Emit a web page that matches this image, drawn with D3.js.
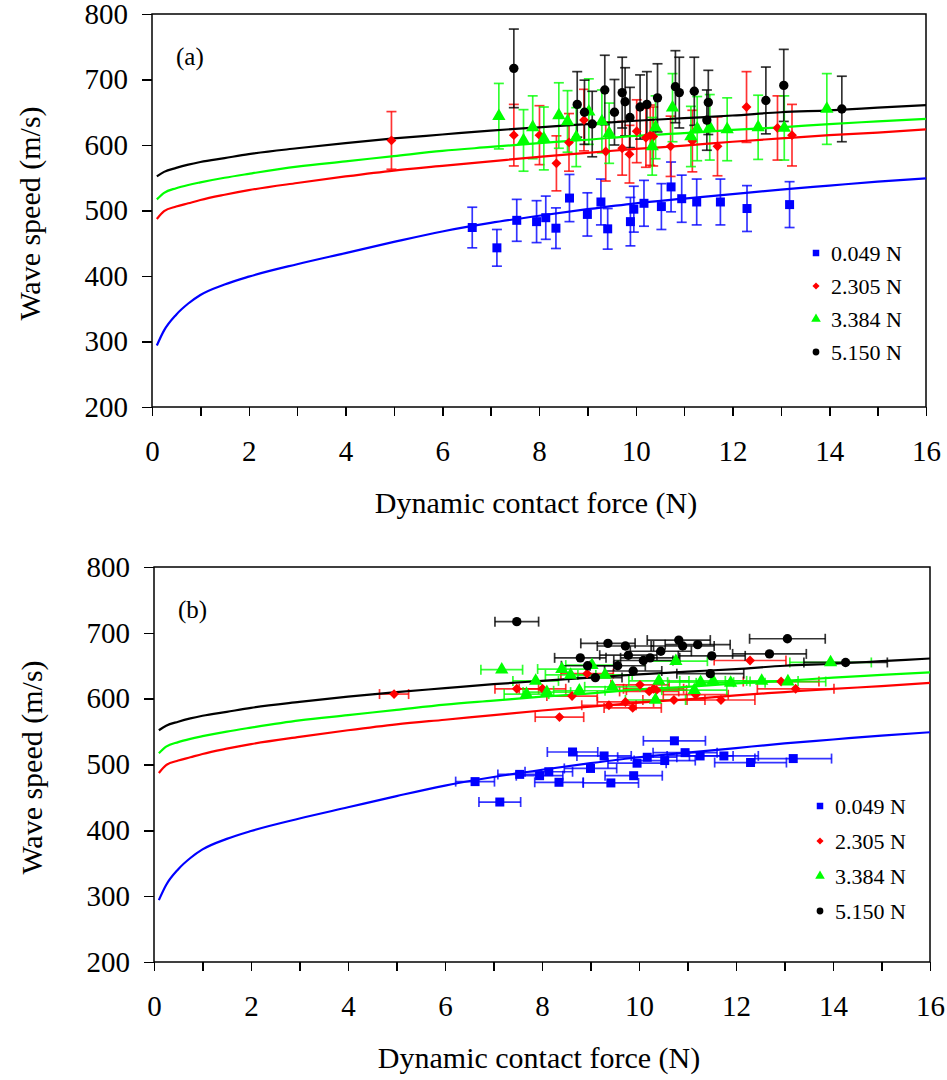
<!DOCTYPE html>
<html lang="en">
<head>
<meta charset="UTF-8">
<title>Wave speed vs dynamic contact force</title>
<script src="https://cdn.jsdelivr.net/npm/d3@7"></script>
<style>
  body { margin: 0; background: #fff; }
  svg text { font-family: "Liberation Serif", "Times New Roman", serif; fill: #000; }
  .axis path, .axis line { stroke: #000; stroke-width: 1.5; shape-rendering: crispEdges; }
  .axis text { font-size: 29px; }
</style>
</head>
<body>
<script>
// ---- data ----
var seriesNames = ["0.049 N", "2.305 N", "3.384 N", "5.150 N"]
var seriesColors = ["#0000ff", "#ff0000", "#00ff00", "#000000"]
var seriesShapes = ["square", "diamond", "triangle", "circle"]

// measured points (force N, speed m/s, speed error, force error)
var blueX = [6.62, 7.13, 7.54, 7.95, 8.14, 8.35, 8.63, 9.00, 9.28, 9.42, 9.89, 9.96, 10.17, 10.53, 10.73, 10.95, 11.26, 11.75, 12.30, 13.18]
var blueY = [474, 443, 485, 483, 489, 473, 519, 494, 513, 472, 483, 502, 511, 506, 536, 518, 513, 513, 503, 509]
var blueYErr = [31, 28, 32, 32, 33, 31, 36, 33, 35, 31, 37, 35, 35, 35, 38, 36, 35, 35, 35, 35]
var blueXErr = [0.40, 0.43, 0.45, 0.48, 0.49, 0.50, 0.52, 0.54, 0.56, 0.57, 0.59, 0.60, 0.61, 0.63, 0.64, 0.66, 0.68, 0.71, 0.74, 0.79]

var redX = [4.95, 7.48, 8.01, 8.36, 8.62, 8.93, 9.38, 9.72, 9.87, 10.02, 10.21, 10.30, 10.36, 10.72, 11.17, 11.69, 12.29, 12.93, 13.23]
var redY = [607, 615, 615, 572, 604, 638, 590, 595, 586, 621, 611, 615, 613, 598, 606, 598, 658, 626, 615]
var redYErr = [44, 47, 45, 42, 44, 47, 45, 41, 44, 48, 45, 46, 45, 46, 47, 45, 54, 49, 47]
var redXErr = [0.30, 0.45, 0.48, 0.50, 0.52, 0.54, 0.56, 0.58, 0.59, 0.60, 0.61, 0.62, 0.62, 0.64, 0.67, 0.70, 0.74, 0.78, 0.79]

var greenX = [7.17, 7.68, 7.87, 8.10, 8.41, 8.59, 8.77, 9.03, 9.30, 9.45, 10.34, 10.41, 10.76, 11.14, 11.27, 11.53, 11.89, 12.53, 13.07, 13.95]
var greenY = [644, 607, 627, 610, 645, 636, 612, 651, 636, 618, 598, 627, 657, 613, 625, 627, 624, 627, 626, 655]
var greenYErr = [50, 47, 48, 48, 50, 47, 45, 50, 48, 46, 44, 48, 52, 46, 49, 50, 48, 49, 49, 54]
var greenXErr = [0.43, 0.46, 0.47, 0.49, 0.50, 0.52, 0.53, 0.54, 0.56, 0.57, 0.62, 0.62, 0.65, 0.67, 0.68, 0.69, 0.71, 0.75, 0.78, 0.84]

var blackX = [7.48, 8.79, 8.94, 9.10, 9.36, 9.56, 9.72, 9.78, 9.88, 10.09, 10.23, 10.45, 10.82, 10.90, 11.21, 11.47, 11.50, 12.69, 13.06, 14.26]
var blackY = [717, 662, 650, 632, 684, 650, 680, 666, 642, 658, 662, 672, 689, 680, 682, 638, 665, 668, 691, 655]
var blackYErr = [60, 50, 49, 50, 53, 50, 54, 52, 46, 49, 50, 52, 55, 54, 52, 46, 49, 51, 55, 50]
var blackXErr = [0.45, 0.53, 0.54, 0.55, 0.56, 0.57, 0.58, 0.59, 0.59, 0.61, 0.61, 0.63, 0.65, 0.65, 0.67, 0.69, 0.69, 0.76, 0.78, 0.86]

// model curves
var curveX = [0.1, 0.25, 0.5, 0.75, 1, 1.5, 2, 3, 4, 5, 6, 7, 8, 9, 10, 11, 12, 13, 14, 15, 16]
var curveBlue = [294, 317, 341, 358, 371, 387, 399, 418, 435, 452, 468, 481, 492, 502, 511, 518, 525, 532, 538, 544, 549]
var curveRed = [487, 499, 506, 511, 516, 524, 531, 542, 552, 561, 568, 575, 582, 588, 594, 599, 605, 610, 615, 619, 624]
var curveGreen = [517, 527, 534, 539, 543, 550, 556, 567, 575, 583, 591, 597, 603, 608, 614, 618, 623, 627, 632, 636, 640]
var curveBlack = [552, 559, 565, 570, 574, 580, 586, 595, 603, 610, 616, 622, 627, 632, 637, 641, 645, 650, 653, 657, 661]

var xTicks = [0, 2, 4, 6, 8, 10, 12, 14, 16]
var yTicks = [200, 300, 400, 500, 600, 700, 800]

var pts = [
    {x: blueX, y: blueY, ye: blueYErr, xe: blueXErr},
    {x: redX, y: redY, ye: redYErr, xe: redXErr},
    {x: greenX, y: greenY, ye: greenYErr, xe: greenXErr},
    {x: blackX, y: blackY, ye: blackYErr, xe: blackXErr}
]
var curves = [curveBlue, curveRed, curveGreen, curveBlack]

var svg = d3.select("body").append("svg")
    .attr("width", 947)
    .attr("height", 1080)

function marker(shape, s) {
    if (shape == "square") return d3.symbol(d3.symbolSquare, s * s)()
    if (shape == "diamond") return d3.symbol(d3.symbolSquare, s * s * 0.6)()
    if (shape == "triangle") return d3.symbol(d3.symbolTriangle, s * s * 0.95)()
    return d3.symbol(d3.symbolCircle, s * s * 0.85)()
}

function drawPanel(p) {
    var x = d3.scaleLinear().domain([0, 16]).range([p.left, p.right])
    var y = d3.scaleLinear().domain([200, 800]).range([p.bottom, p.top])
    var g = svg.append("g")

    // frame
    g.append("rect")
        .attr("x", p.left).attr("y", p.top)
        .attr("width", p.right - p.left).attr("height", p.bottom - p.top)
        .attr("fill", "none").attr("stroke", "#000").attr("stroke-width", 1.5)

    // axes
    g.append("g").attr("class", "axis")
        .attr("transform", "translate(0," + p.bottom + ")")
        .call(d3.axisBottom(x).tickValues(d3.range(0, 17, 1)).tickSize(9).tickPadding(24)
            .tickFormat(function(d) { return xTicks.indexOf(d) >= 0 ? d : "" }))
    g.append("g").attr("class", "axis")
        .attr("transform", "translate(" + p.left + ",0)")
        .call(d3.axisLeft(y).tickValues(yTicks).tickSize(10).tickPadding(14))
    g.selectAll(".axis .domain").remove()

    // titles
    g.append("text")
        .attr("x", (p.left + p.right) / 2 - 3).attr("y", p.bottom + 106)
        .attr("text-anchor", "middle").style("font-size", "30px")
        .text("Dynamic contact force (N)")
    g.append("text")
        .attr("transform", "translate(" + p.ytx + "," + ((p.top + p.bottom) / 2 + 3) + ") rotate(-90)")
        .attr("text-anchor", "middle").style("font-size", "30px")
        .text("Wave speed (m/s)")
    g.append("text")
        .attr("x", p.left + 24).attr("y", p.top + 51)
        .style("font-size", "25px")
        .text(p.label)

    // error bars
    pts.forEach(function(s, k) {
        var eb = g.append("g")
            .attr("stroke", seriesColors[k]).attr("stroke-width", 1.7)
            .attr("stroke-opacity", 0.8).attr("fill", "none")
        s.x.forEach(function(xv, i) {
            var cx = x(xv), cy = y(s.y[i])
            if (p.err == "y") {
                var y1 = y(s.y[i] + s.ye[i]), y2 = y(s.y[i] - s.ye[i])
                eb.append("line").attr("x1", cx).attr("x2", cx).attr("y1", y1).attr("y2", y2)
                eb.append("line").attr("x1", cx - 5).attr("x2", cx + 5).attr("y1", y1).attr("y2", y1)
                eb.append("line").attr("x1", cx - 5).attr("x2", cx + 5).attr("y1", y2).attr("y2", y2)
            } else {
                var x1 = x(xv - s.xe[i]), x2 = x(xv + s.xe[i])
                eb.append("line").attr("x1", x1).attr("x2", x2).attr("y1", cy).attr("y2", cy)
                eb.append("line").attr("x1", x1).attr("x2", x1).attr("y1", cy - 5).attr("y2", cy + 5)
                eb.append("line").attr("x1", x2).attr("x2", x2).attr("y1", cy - 5).attr("y2", cy + 5)
            }
        })
    })

    // model curves
    var line = d3.line()
        .x(function(d) { return x(d[0]) })
        .y(function(d) { return y(d[1]) })
        .curve(d3.curveMonotoneX)
    curves.forEach(function(c, k) {
        g.append("path")
            .datum(curveX.map(function(xv, i) { return [xv, c[i]] }))
            .attr("d", line)
            .attr("fill", "none").attr("stroke", seriesColors[k]).attr("stroke-width", 2.2)
    })

    // markers
    pts.forEach(function(s, k) {
        g.append("g").selectAll("path")
            .data(s.x.map(function(xv, i) { return [xv, s.y[i]] }))
            .enter().append("path")
            .attr("d", marker(seriesShapes[k], 9))
            .attr("transform", function(d) {
                return "translate(" + x(d[0]) + "," + y(d[1]) + ")" + (seriesShapes[k] == "diamond" ? " rotate(45)" : "")
            })
            .attr("fill", seriesColors[k])
    })

    // legend
    seriesNames.forEach(function(n, k) {
        var ly = p.legY + k * p.legStep
        g.append("path")
            .attr("d", marker(seriesShapes[k], 6.5))
            .attr("transform", "translate(" + p.legX + "," + ly + ")" + (seriesShapes[k] == "diamond" ? " rotate(45)" : ""))
            .attr("fill", seriesColors[k])
        g.append("text")
            .attr("x", p.legX + 15).attr("y", ly + 8)
            .style("font-size", "22px")
            .text(n)
    })
}

drawPanel({left: 152, right: 926, top: 14, bottom: 407, err: "y", label: "(a)",
    ytx: 40, legX: 816, legY: 253, legStep: 33})
drawPanel({left: 154, right: 930, top: 567, bottom: 962, err: "x", label: "(b)",
    ytx: 42, legX: 820, legY: 806, legStep: 35})
</script>
</body>
</html>
